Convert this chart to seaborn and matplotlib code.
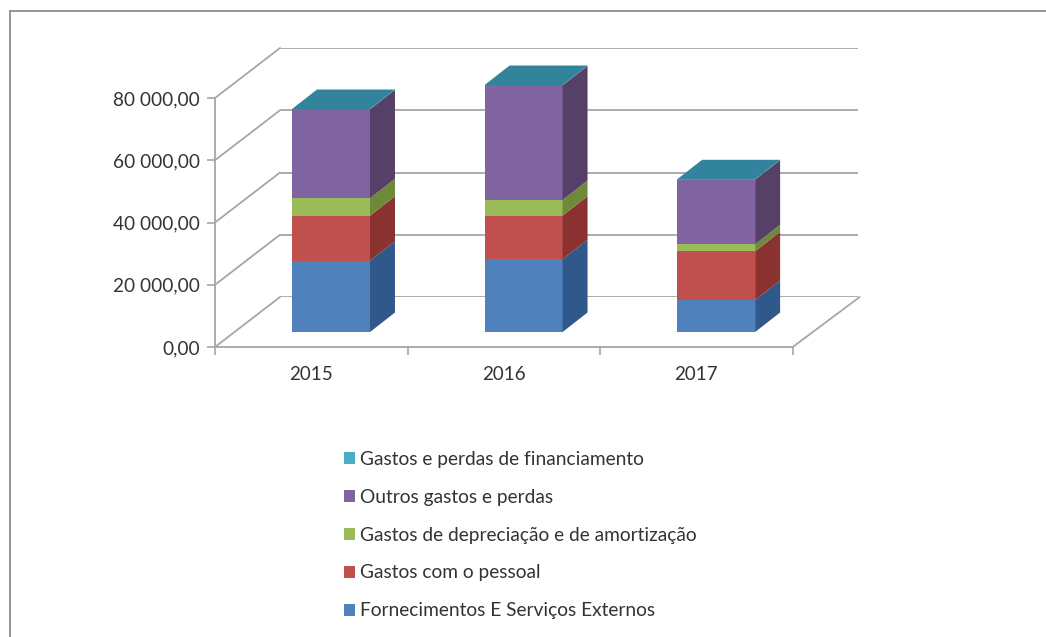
import matplotlib
matplotlib.use("Agg")
import matplotlib.pyplot as plt
from matplotlib.lines import Line2D
from matplotlib.patches import Polygon
from matplotlib.ticker import FuncFormatter
from matplotlib.transforms import IdentityTransform
import seaborn as sns

# Expenses per year, in euros
years = ["2015", "2016", "2017"]
fornecimentos = [22900, 23360, 10280]
pessoal = [14460, 14000, 15650]
depreciacao = [5590, 5040, 2250]
outros = [28600, 36850, 20790]
financiamento = [90, 100, 90]

series_names = [
    "Fornecimentos E Serviços Externos",
    "Gastos com o pessoal",
    "Gastos de depreciação e de amortização",
    "Outros gastos e perdas",
    "Gastos e perdas de financiamento",
]
series_values = [fornecimentos, pessoal, depreciacao, outros, financiamento]
front_colors = ["#4F81BD", "#C0504D", "#9BBB59", "#8064A2", "#4BACC6"]
side_colors = ["#30588A", "#8A3230", "#6E8A38", "#574068", "#31849B"]
top_color = "#31849B"
line_color = "#A6A6A6"
text_color = "#333333"

W, H = 1046, 637
sns.set_theme(style="white")
plt.rcParams["font.family"] = ["Lato", "DejaVu Sans"]
plt.rcParams["savefig.dpi"] = 100

fig = plt.figure(figsize=(W / 100, H / 100), dpi=100, facecolor="white")


def plane(dx, dy, **kwargs):
    """Axes for one depth plane of the pseudo-3D box, given its pixel offset."""
    left, right, bottom, top = 215 + dx, 792.7 + dx, 347 - dy, 98 - dy
    ax = fig.add_axes(
        [left / W, 1 - bottom / H, (right - left) / W, (bottom - top) / H], **kwargs
    )
    ax.set_xlim(-0.5, 2.5)
    ax.set_ylim(0, 80000)
    ax.patch.set_alpha(0)
    return ax


# Back wall: horizontal gridlines only
back = plane(65, 50)
back.set_yticks(range(0, 80001, 20000))
back.set_xticks([])
back.tick_params(left=False, labelleft=False)
back.grid(axis="y", color=line_color, lw=1.3)
sns.despine(ax=back, left=True, bottom=True)

# Front plane: value and category axes
front = plane(0, 0)
front.set_yticks(range(0, 80001, 20000))
front.yaxis.set_major_formatter(
    FuncFormatter(lambda v, _: f"{v:,.2f}".replace(",", " ").replace(".", ","))
)
front.set_xticks([-0.5, 0.5, 1.5, 2.5], labels=[])
front.set_xticks([0, 1, 2], labels=years, minor=True)
front.tick_params(axis="x", which="major", length=6, width=1.2, color=line_color, bottom=True)
front.tick_params(axis="x", which="minor", length=0, pad=13.5, labelsize=13.5, labelcolor=text_color)
front.tick_params(axis="y", length=6, width=1.2, color=line_color, left=True, pad=5,
                  labelsize=13.7, labelcolor=text_color)
sns.despine(ax=front)
for side in ("left", "bottom"):
    front.spines[side].set_color(line_color)
    front.spines[side].set_linewidth(1.3)

# Lines joining the front axis to the back wall, plus the right edge of the floor
to_px = front.transData.transform
for value in range(0, 80001, 20000):
    x0, y0 = to_px((-0.5, value))
    fig.add_artist(Line2D([x0 / W, (x0 + 65) / W], [y0 / H, (y0 + 50) / H],
                          color=line_color, lw=1.3))
x0, y0 = to_px((2.5, 0))
fig.add_artist(Line2D([x0 / W, (x0 + 67) / W], [y0 / H, (y0 + 50) / H],
                      color=line_color, lw=1.3))

# Stacked bars on a plane set slightly behind the front axis
bars = plane(19.7, 15)
bars.set_axis_off()
BAR_WIDTH = 0.405
DEPTH_X, DEPTH_Y = 25, 19.5

bottoms = [0, 0, 0]
for name, values, face, shade in zip(series_names, series_values, front_colors, side_colors):
    sns.barplot(x=years, y=values, bottom=bottoms, order=years, width=BAR_WIDTH,
                color=face, saturation=1, linewidth=0, label=name, ax=bars, zorder=3)
    tops = [b + v for b, v in zip(bottoms, values)]
    # Right-hand face of every segment, extruded in pixels from the front face
    for i, (b, t) in enumerate(zip(bottoms, tops)):
        xa, ya = bars.transData.transform((i + BAR_WIDTH / 2, b))
        xa, yb = bars.transData.transform((i + BAR_WIDTH / 2, t))
        corners = [(xa, ya), (xa, yb), (xa + DEPTH_X, yb + DEPTH_Y), (xa + DEPTH_X, ya + DEPTH_Y)]
        bars.add_patch(Polygon(corners, closed=True, facecolor=shade, edgecolor="none",
                               transform=IdentityTransform(), zorder=3, clip_on=False))
    bottoms = tops

# Top face of each stack
for i, t in enumerate(bottoms):
    xl, yt = bars.transData.transform((i - BAR_WIDTH / 2, t))
    xr, _ = bars.transData.transform((i + BAR_WIDTH / 2, t))
    corners = [(xl, yt), (xr, yt), (xr + DEPTH_X, yt + DEPTH_Y), (xl + DEPTH_X, yt + DEPTH_Y)]
    bars.add_patch(Polygon(corners, closed=True, facecolor=top_color, edgecolor="none",
                           transform=IdentityTransform(), zorder=3, clip_on=False))
bars.set_xlim(-0.5, 2.5)
bars.set_ylim(0, 80000)

# Legend below the chart, last series first
handles, labels = bars.get_legend_handles_labels()
if bars.get_legend() is not None:
    bars.get_legend().remove()
legend = fig.legend(
    handles[::-1], labels[::-1],
    loc="upper left", bbox_to_anchor=(344 / W, 1 - 451 / H), frameon=False,
    fontsize=13.76, labelcolor=text_color,
    handlelength=0.58, handleheight=0.58, handletextpad=0.26, labelspacing=1.09,
    borderpad=0, borderaxespad=0,
)

# Outer frame: only the top and left edges are visible
frame = dict(color="#8C8C8C", lw=1.3)
fig.add_artist(Line2D([9.5 / W, 1], [1 - 10.5 / H, 1 - 10.5 / H], **frame))
fig.add_artist(Line2D([9.5 / W, 9.5 / W], [1 - 10.5 / H, 0], **frame))

fig.savefig("out.png", facecolor="white")
